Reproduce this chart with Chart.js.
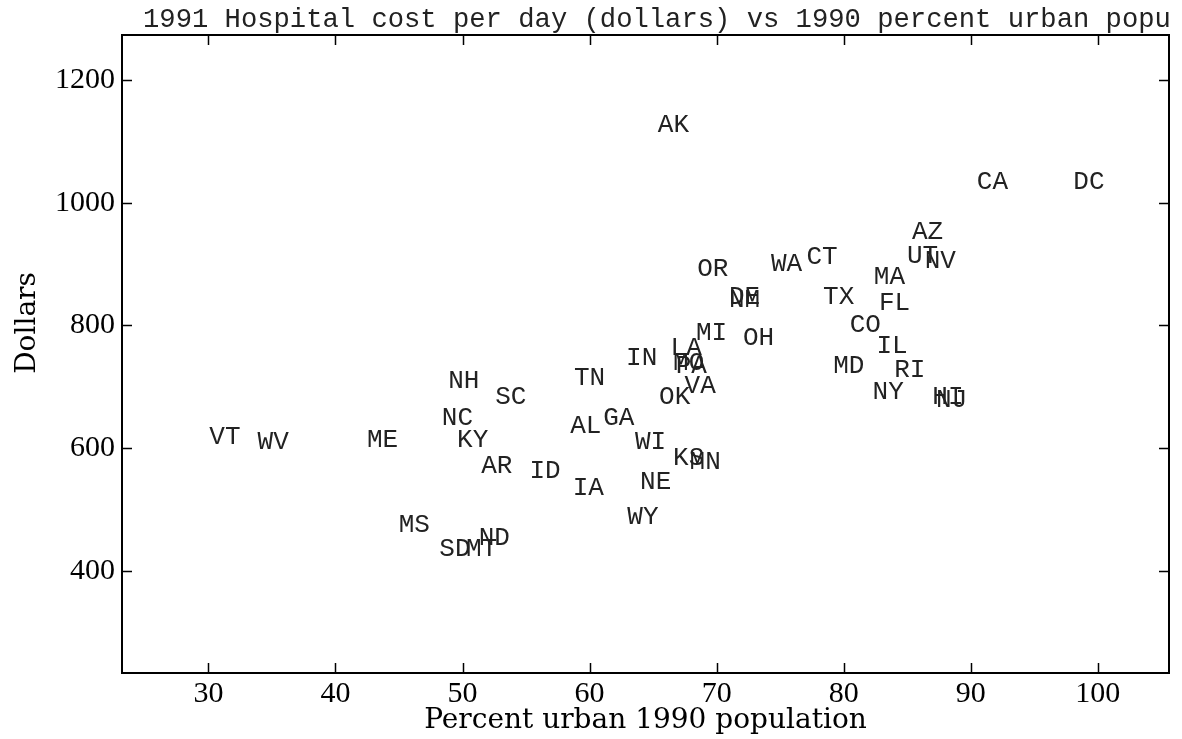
<!DOCTYPE html>
<html lang="en">
<head>
    <meta charset="UTF-8">
    <title>Hospital cost vs urban population</title>
    <script src="https://cdn.jsdelivr.net/npm/chart.js"></script>
    <style>
        body { margin: 0; background: white; }
        #wrap { width: 1182px; height: 739px; position: relative; }
    </style>
</head>
<body>
    <div id="wrap"><canvas id="plot"></canvas></div>
    <script>
        // state labels, 1990 percent urban, 1991 cost per day
        const states = ['AK','CA','DC','AZ','UT','NV','OR','WA','CT','MA',
                        'DE','NM','TX','FL','CO','MI','OH','LA','IN','MO',
                        'PA','VA','OK','IL','MD','RI','NY','HI','NJ','TN',
                        'NH','SC','NC','KY','GA','AL','WI','KS','MN','VT',
                        'WV','ME','AR','ID','IA','NE','WY','MS','SD','MT','ND'];
        const urban = [66.6, 91.7, 99.3, 86.6, 86.2, 87.6, 69.7, 75.5, 78.3, 83.6,
                       72.2, 72.2, 79.6, 84.0, 81.7, 69.6, 73.3, 67.6, 64.1, 67.8,
                       68.0, 68.7, 66.7, 83.8, 80.4, 85.2, 83.5, 88.2, 88.5, 60.0,
                       50.1, 53.8, 49.6, 50.8, 62.3, 59.7, 64.8, 67.8, 69.1, 31.3,
                       35.1, 43.7, 52.7, 56.5, 59.9, 65.2, 64.2, 46.2, 49.4, 51.5, 52.5];
        const cost = [1127, 1034, 1034, 952, 913, 905, 892, 900, 912, 879,
                      846, 842, 846, 837, 801, 788, 780, 763, 746, 739,
                      733, 702, 684, 767, 734, 728, 692, 684, 679, 714,
                      710, 684, 649, 613, 649, 636, 610, 584, 577, 618,
                      610, 613, 571, 563, 535, 545, 488, 475, 436, 436, 454];
        const xTicks = [30, 40, 50, 60, 70, 80, 90, 100];
        const yTicks = [400, 600, 800, 1000, 1200];

        const mono = '"Liberation Mono", "DejaVu Sans Mono", monospace';
        const serif = '"DejaVu Serif", serif';
        const tickSerif = '"Liberation Serif", serif';

        const framePlugin = {
            id: 'frame',
            afterDatasetsDraw(chart) {
                const ctx = chart.ctx;
                const a = chart.chartArea;
                const xs = chart.scales.x, ys = chart.scales.y;
                const len = 10;
                ctx.save();
                // state abbreviations at each point
                ctx.fillStyle = '#222';
                ctx.font = '26px ' + mono;
                ctx.textAlign = 'center';
                ctx.textBaseline = 'middle';
                chart.getDatasetMeta(0).data.forEach((pt, i) => {
                    ctx.fillText(states[i], pt.x, pt.y);
                });
                // box
                ctx.strokeStyle = '#000';
                ctx.lineWidth = 2;
                ctx.strokeRect(a.left, a.top, a.right - a.left, a.bottom - a.top);
                // inward ticks
                ctx.lineWidth = 1.5;
                ctx.beginPath();
                xTicks.forEach(v => {
                    const px = Math.round(xs.getPixelForValue(v)) + 0.5;
                    ctx.moveTo(px, a.bottom); ctx.lineTo(px, a.bottom - len);
                    ctx.moveTo(px, a.top); ctx.lineTo(px, a.top + len);
                });
                yTicks.forEach(v => {
                    const py = Math.round(ys.getPixelForValue(v)) + 0.5;
                    ctx.moveTo(a.left, py); ctx.lineTo(a.left + len, py);
                    ctx.moveTo(a.right, py); ctx.lineTo(a.right - len, py);
                });
                ctx.stroke();
                // y axis title (sits a bit above the axis middle in the original)
                ctx.fillStyle = '#000';
                ctx.font = '28px ' + serif;
                ctx.textAlign = 'center';
                ctx.textBaseline = 'alphabetic';
                ctx.save();
                ctx.translate(35, 323);
                ctx.rotate(-Math.PI / 2);
                ctx.fillText('Dollars', 0, 0);
                ctx.restore();
                // title, cut off at the right edge of the box like the original
                ctx.beginPath();
                ctx.rect(0, 0, a.right, a.top);
                ctx.clip();
                ctx.fillStyle = '#222';
                ctx.font = '27.2px ' + mono;
                ctx.textAlign = 'left';
                ctx.fillText('1991 Hospital cost per day (dollars) vs 1990 percent urban population', 143, 27);
                ctx.restore();
            }
        };

        new Chart(document.getElementById('plot'), {
            type: 'scatter',
            data: {
                datasets: [{
                    data: urban.map((u, i) => ({ x: u, y: cost[i] })),
                    pointRadius: 0,
                    pointHoverRadius: 0
                }]
            },
            options: {
                responsive: true,
                maintainAspectRatio: false,
                animation: false,
                events: [],
                layout: { padding: { top: 35, right: 13, left: 0, bottom: 0 } },
                plugins: { legend: { display: false }, tooltip: { enabled: false } },
                scales: {
                    x: {
                        type: 'linear',
                        min: 23.2,
                        max: 105.6,
                        afterBuildTicks: s => { s.ticks = xTicks.map(v => ({ value: v })); },
                        afterFit: s => { s.height = 66; },
                        grid: { display: false, drawTicks: false },
                        border: { display: false },
                        ticks: {
                            color: '#000', padding: 3, maxRotation: 0,
                            font: { family: tickSerif, size: 30 },
                            callback: v => String(v)
                        },
                        title: {
                            display: true,
                            text: 'Percent urban 1990 population',
                            color: '#000',
                            padding: { top: 0, bottom: 1 },
                            font: { family: serif, size: 28 }
                        }
                    },
                    y: {
                        type: 'linear',
                        min: 234,
                        max: 1273,
                        afterBuildTicks: s => { s.ticks = yTicks.map(v => ({ value: v })); },
                        afterFit: s => { s.width = 122; },
                        grid: { display: false, drawTicks: false },
                        border: { display: false },
                        ticks: {
                            color: '#000', padding: 7,
                            font: { family: tickSerif, size: 30 },
                            callback: v => String(v)
                        }
                    }
                }
            },
            plugins: [framePlugin]
        });
    </script>
</body>
</html>
